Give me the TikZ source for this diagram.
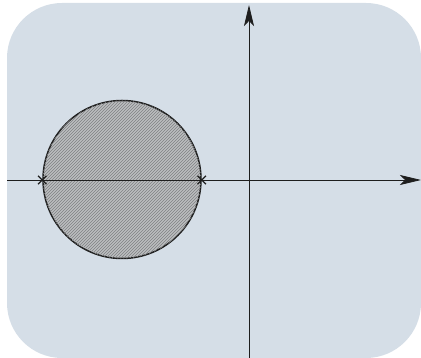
\documentclass[tikz,border=0pt]{standalone}
\usepackage{tikz}
\usetikzlibrary{arrows.meta,positioning,shapes.misc,patterns}
\definecolor{panel}{HTML}{D5DEE7}
\definecolor{ink}{HTML}{1E1E1E}
\definecolor{diskgray}{HTML}{BCBEC0}
\definecolor{hatchgray}{HTML}{7E8082}
\tikzset{
  axisarr/.style={-{Stealth[length=21pt,width=10pt,inset=5pt]},line width=0.8pt,color=ink},
  diskbox/.style={circle,draw=ink,line width=1.5pt,minimum size=158pt,inner sep=0pt,
                  fill=diskgray,postaction={pattern=north east lines,pattern color=hatchgray}},
  polemark/.style={cross out,draw=ink,line width=1.4pt,minimum size=7pt,inner sep=0pt}
}
\begin{document}
\begin{tikzpicture}[x=1pt,y=1pt]
  \useasboundingbox (0,0) rectangle (421,358);
  \fill[panel,rounded corners=55pt] (7,0) rectangle (421,355);
  \node[diskbox] (disk) at (122,178.5) {};
  \coordinate (xl) at (7,178);
  \coordinate (xr) at (421,178);
  \coordinate (yb) at (249,0);
  \coordinate (yt) at (249,353);
  \draw[axisarr] (xl) -- (xr);
  \draw[axisarr] (yb) -- (yt);
  \node[polemark] (p1) at (disk.west |- xl) {};
  \node[polemark] (p2) at (disk.east |- xl) {};
\end{tikzpicture}
\end{document}
